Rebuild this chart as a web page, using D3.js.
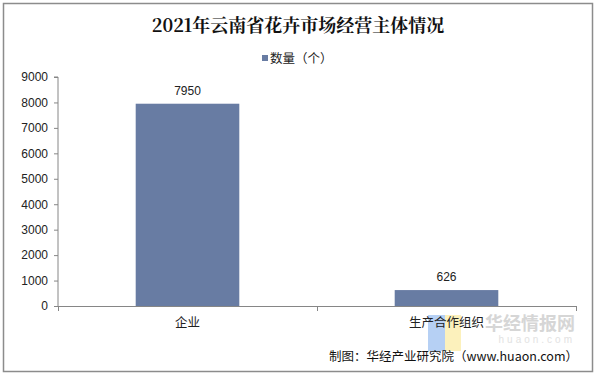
<!DOCTYPE html>
<html>
<head>
<meta charset="utf-8">
<script src="https://cdn.jsdelivr.net/npm/d3@7"></script>
<style>
  body { margin: 0; background: #fff; }
  svg text { font-family: "Liberation Sans", Arial, "Noto Sans CJK SC", sans-serif; }
</style>
</head>
<body>
<div class="chart-container"></div>
<script>
/********** the Data **********/
const categories = ["企业", "生产合作组织"];
const counts = [7950, 626];
const yTicks = [0, 1000, 2000, 3000, 4000, 5000, 6000, 7000, 8000, 9000];
const seriesName = "数量（个）";
const titleText = "2021年云南省花卉市场经营主体情况";
const sourceText = "制图：华经产业研究院（www.huaon.com）";

let chartData = categories.map((c, i) => ({cat: c, val: counts[i]}));

/***** dimensions *****/
let width = 597, height = 375;
let plot = {left: 58, right: 576, top: 77, bottom: 306};
let barColor = "#687ca3";
let axisColor = "#868686";

let svg = d3.select(".chart-container")
  .append("svg")
    .attr("width", width)
    .attr("height", height);

// outer frame
svg.append("rect")
  .attr("x", 3.5).attr("y", 3.5)
  .attr("width", 589).attr("height", 368)
  .attr("fill", "none")
  .attr("stroke", "#8c8c8c")
  .attr("stroke-width", 1.5);

/***** scales *****/
let xScale = d3.scaleBand()
  .domain(categories)
  .range([plot.left, plot.right])
  .paddingInner(0.6)
  .paddingOuter(0.3);

let yScale = d3.scaleLinear()
  .domain([0, 9000])
  .range([plot.bottom, plot.top]);

// title
svg.append("text")
  .attr("x", 298).attr("y", 32)
  .attr("text-anchor", "middle")
  .style("font-family", "'Noto Serif CJK SC', 'DejaVu Serif', 'Noto Sans CJK SC', serif")
  .style("font-size", "18px")
  .style("font-weight", "bold")
  .attr("fill", "#111")
  .text(titleText);

// legend
svg.append("rect")
  .attr("x", 262).attr("y", 55)
  .attr("width", 6).attr("height", 6)
  .attr("fill", barColor);
svg.append("text")
  .attr("x", 270).attr("y", 63)
  .style("font-family", "'Noto Sans CJK SC', sans-serif")
  .style("font-size", "12.5px")
  .attr("fill", "#222")
  .text(seriesName);

/***** axes *****/
let yAxis = d3.axisLeft(yScale)
  .tickValues(yTicks)
  .tickFormat(d3.format("d"))
  .tickSize(4)
  .tickPadding(6);

let yG = svg.append("g")
  .attr("class", "y-axis")
  .attr("transform", `translate(${plot.left}, 0)`)
  .call(yAxis);
yG.select(".domain").attr("stroke", axisColor).attr("d", `M-4,${plot.top}H0V${plot.bottom}`);
yG.selectAll(".tick line").attr("stroke", axisColor);
yG.selectAll(".tick text")
  .style("font-size", "12px")
  .attr("fill", "#222");

// x axis with boundary ticks between categories
let xG = svg.append("g")
  .attr("class", "x-axis")
  .attr("transform", `translate(0, ${plot.bottom})`);
xG.append("line")
  .attr("x1", plot.left).attr("x2", plot.right)
  .attr("y1", 0.5).attr("y2", 0.5)
  .attr("stroke", axisColor);
let bounds = [plot.left, (plot.left + plot.right) / 2, plot.right];
xG.selectAll(".xtick")
  .data(bounds)
  .enter().append("line")
    .attr("class", "xtick")
    .attr("x1", d => d + 0.5).attr("x2", d => d + 0.5)
    .attr("y1", 0).attr("y2", 5)
    .attr("stroke", axisColor);

/***** bars *****/
svg.selectAll(".bar")
  .data(chartData)
  .enter().append("rect")
    .attr("class", "bar")
    .attr("x", d => xScale(d.cat))
    .attr("width", xScale.bandwidth())
    .attr("y", d => yScale(d.val))
    .attr("height", d => plot.bottom - yScale(d.val))
    .attr("fill", barColor);

svg.selectAll(".val")
  .data(chartData)
  .enter().append("text")
    .attr("class", "val")
    .attr("x", d => xScale(d.cat) + xScale.bandwidth() / 2)
    .attr("y", d => yScale(d.val) - 9)
    .attr("text-anchor", "middle")
    .style("font-size", "12px")
    .attr("fill", "#222")
    .text(d => d.val);

/***** watermark *****/
svg.append("rect").attr("x", 428).attr("y", 315).attr("width", 17).attr("height", 36)
  .attr("fill", "#a9c8f2").attr("opacity", 0.85);
svg.append("rect").attr("x", 445).attr("y", 315).attr("width", 16).attr("height", 36)
  .attr("fill", "#fbeeb0").attr("opacity", 0.85);
svg.append("text")
  .attr("x", 575).attr("y", 330)
  .attr("text-anchor", "end")
  .style("font-family", "'Noto Sans CJK SC', sans-serif")
  .style("font-size", "18px")
  .style("font-weight", "bold")
  .attr("fill", "#cccccc")
  .attr("opacity", 0.8)
  .text("华经情报网");
svg.append("text")
  .attr("x", 575).attr("y", 343)
  .attr("text-anchor", "end")
  .style("font-size", "10px")
  .attr("letter-spacing", "3px")
  .attr("fill", "#e2e2e2")
  .text("huaon.com");

// category labels drawn over the watermark
svg.selectAll(".xlabel")
  .data(categories)
  .enter().append("text")
    .attr("class", "xlabel")
    .attr("x", d => xScale(d) + xScale.bandwidth() / 2)
    .attr("y", plot.bottom + 21)
    .attr("text-anchor", "middle")
    .style("font-family", "'Noto Sans CJK SC', sans-serif")
    .style("font-size", "12.5px")
    .attr("fill", "#222")
    .text(d => d);

svg.append("text")
  .attr("x", 578).attr("y", 361)
  .attr("text-anchor", "end")
  .style("font-family", "'Noto Sans CJK SC', sans-serif")
  .style("font-size", "12.5px")
  .attr("fill", "#111")
  .text(sourceText);
</script>
</body>
</html>
